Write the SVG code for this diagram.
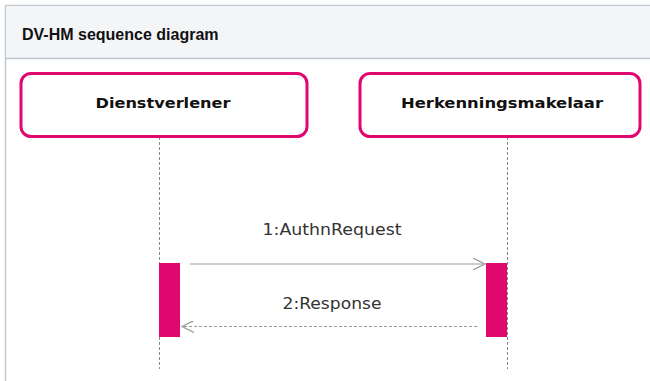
<svg xmlns="http://www.w3.org/2000/svg" width="650" height="381" viewBox="0 0 650 381">
<defs>
<style>
.node rect{fill:#fff;stroke:#e0076f;stroke-width:3}
.node text{font-family:"DejaVu Sans","Open Sans",sans-serif;font-weight:bold;font-size:14px;fill:#111;text-anchor:middle}
.life{stroke:#888;stroke-width:1;stroke-dasharray:3,2}
.act{fill:#e0076f}
.msg{stroke:#999;stroke-width:1.2;fill:none}
.lbl{font-family:"DejaVu Sans","Open Sans",sans-serif;font-size:15.5px;fill:#333;text-anchor:middle}
</style>
<marker id="open" markerWidth="14" markerHeight="12" refX="12" refY="6" orient="auto" markerUnits="userSpaceOnUse">
<path d="M0,0 L12,6 L0,12" fill="none" stroke="#999" stroke-width="1.2"/>
</marker>
</defs>
<rect x="0" y="0" width="650" height="381" fill="#fff"/>
<rect x="5.5" y="5.5" width="660" height="400" fill="#fff" stroke="#c1c7d0" stroke-width="1.5"/>
<rect x="6" y="6" width="650" height="52" fill="#f4f5f7"/>
<line x1="5" y1="58.5" x2="650" y2="58.5" stroke="#c1c7d0" stroke-width="1.5"/>
<text x="22" y="40" font-family="'Liberation Sans',Arial,sans-serif" font-weight="bold" font-size="16" fill="#111">DV-HM sequence diagram</text>
<g id="lifelines">
<line class="life" x1="159.5" y1="137" x2="159.5" y2="369"/>
<line class="life" x1="507.5" y1="137" x2="507.5" y2="369"/>
</g>
<g id="Dienstverlener" class="node">
<rect x="21" y="73.5" width="286" height="63" rx="10"/>
<text x="163" y="108" textLength="135" lengthAdjust="spacingAndGlyphs">Dienstverlener</text>
</g>
<g id="Herkenningsmakelaar" class="node">
<rect x="360" y="73.5" width="280" height="63" rx="10"/>
<text x="502" y="108" textLength="202" lengthAdjust="spacingAndGlyphs">Herkenningsmakelaar</text>
</g>
<g id="activations">
<rect class="act" x="159" y="263" width="21" height="74"/>
<rect class="act" x="486" y="263" width="21" height="74"/>
</g>
<g id="connectors">
<line class="msg" x1="190" y1="264" x2="485" y2="264" marker-end="url(#open)"/>
<text class="lbl" x="332" y="235" textLength="139" lengthAdjust="spacingAndGlyphs">1:AuthnRequest</text>
<line class="msg" x1="477" y1="326.5" x2="182" y2="326.5" stroke-dasharray="3,2" marker-end="url(#open)"/>
<text class="lbl" x="332" y="309" textLength="99" lengthAdjust="spacingAndGlyphs">2:Response</text>
</g>
</svg>
